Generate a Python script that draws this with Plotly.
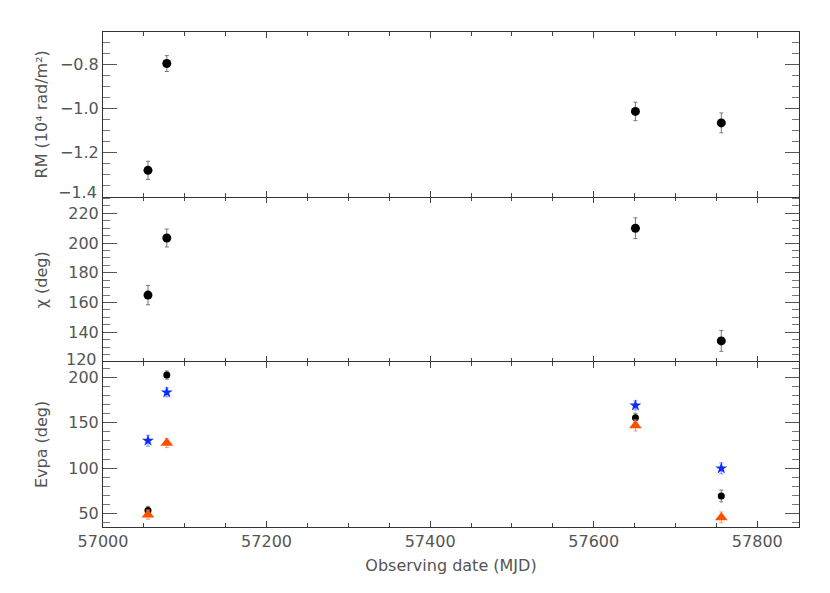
import plotly.graph_objects as go
from plotly.subplots import make_subplots

# observing epochs (MJD)
mjd = [57055, 57078, 57651, 57756]

# rotation measure (10^4 rad/m^2)
rm = [-1.279, -0.795, -1.012, -1.064]
rm_err = [0.041, 0.036, 0.042, 0.045]
rm_ticks = [-1.4, -1.2, -1.0, -0.8]
rm_ticktext = ["", "−1.2", "−1.0", "−0.8"]

# intrinsic polarisation angle chi (deg)
chi = [165.0, 203.4, 210.0, 134.2]
chi_err = [6.5, 6.0, 7.0, 7.0]
chi_ticks = [120, 140, 160, 180, 200, 220]
chi_ticktext = ["", "140", "160", "180", "200", "220"]

# EVPA at three frequencies (deg)
evpa_black = [53.3, 202.6, 155.5, 69.2]
evpa_black_err = [4.5, 4.5, 5.0, 6.5]
evpa_blue = [130.2, 183.5, 169.1, 99.7]
evpa_blue_err = [6.0, 5.0, 5.0, 6.0]
evpa_orange = [48.6, 127.6, 147.0, 45.6]
evpa_orange_err = [5.0, 5.0, 6.0, 6.0]

fig = make_subplots(rows=3, cols=1, shared_xaxes=True, vertical_spacing=0)

def err(vals, color):
    return dict(type="data", array=vals, visible=True, color=color, thickness=1, width=2)

fig.add_trace(go.Scatter(x=mjd, y=rm, mode="markers", error_y=err(rm_err, "#777"),
                         marker=dict(color="black", size=9)), row=1, col=1)
fig.add_trace(go.Scatter(x=mjd, y=chi, mode="markers", error_y=err(chi_err, "#777"),
                         marker=dict(color="black", size=9)), row=2, col=1)
fig.add_trace(go.Scatter(x=mjd, y=evpa_blue, mode="markers", error_y=err(evpa_blue_err, "#7f8cff"),
                         marker=dict(color="#0a2cff", size=9, symbol="star")), row=3, col=1)
fig.add_trace(go.Scatter(x=mjd, y=evpa_black, mode="markers", error_y=err(evpa_black_err, "#777"),
                         marker=dict(color="black", size=7)), row=3, col=1)
fig.add_trace(go.Scatter(x=mjd, y=evpa_orange, mode="markers", error_y=err(evpa_orange_err, "#ff9a70"),
                         marker=dict(color="#ff5000", size=11, symbol="triangle-up")), row=3, col=1)

axfont = dict(family="DejaVu Sans", size=16, color="#555")

for r in (1, 2, 3):
    fig.update_xaxes(range=[57000, 57851], tick0=57000, dtick=200, tickformat="d",
                     ticks="inside", ticklen=6, tickcolor="#444",
                     showline=(r != 2), linecolor="#333", linewidth=1, mirror="ticks",
                     showgrid=False, zeroline=False, tickfont=axfont,
                     minor=dict(dtick=50, tick0=57000, ticks="inside", ticklen=4, tickcolor="#444"),
                     row=r, col=1)

fig.update_xaxes(title=dict(text="Observing date (MJD)", font=axfont, standoff=9), row=3, col=1)

fig.update_yaxes(range=[-1.4, -0.652], tickvals=rm_ticks, ticktext=rm_ticktext,
                 minor=dict(dtick=0.05, tick0=-1.4, ticks="inside", ticklen=7, tickcolor="#777"),
                 row=1, col=1)
fig.update_yaxes(range=[120, 231], tickvals=chi_ticks, ticktext=chi_ticktext,
                 minor=dict(dtick=5, ticks="inside", ticklen=7, tickcolor="#777"), row=2, col=1)
fig.update_yaxes(range=[35, 217], tick0=0, dtick=50, tickformat="d",
                 minor=dict(dtick=10, ticks="inside", ticklen=7, tickcolor="#777"), row=3, col=1)
fig.update_yaxes(ticks="inside", ticklen=14, tickcolor="#555", showline=True, linecolor="#333",
                 mirror="ticks", showgrid=False, zeroline=False, tickfont=axfont)

# bottom labels of the upper two axes sit a little above their ticks
fig.add_annotation(text="−1.4", xref="paper", yref="y", x=-0.006, y=-1.4, yshift=5,
                   xanchor="right", yanchor="middle", showarrow=False, font=axfont)
fig.add_annotation(text="120", xref="paper", yref="y2", x=-0.006, y=120, yshift=3,
                   xanchor="right", yanchor="middle", showarrow=False, font=axfont)

titles = ["RM (10⁴ rad/m²)", "χ (deg)", "Evpa (deg)"]
for t, yc in zip(titles, [0.833, 0.5, 0.167]):
    fig.add_annotation(text=t, xref="paper", yref="paper", x=-0.088, y=yc, textangle=-90,
                       showarrow=False, xanchor="center", yanchor="middle", font=axfont)

fig.update_layout(width=830, height=593, showlegend=False, plot_bgcolor="white", paper_bgcolor="white",
                  margin=dict(l=95, r=39, t=24, b=74))

fig.write_html("out.html")
